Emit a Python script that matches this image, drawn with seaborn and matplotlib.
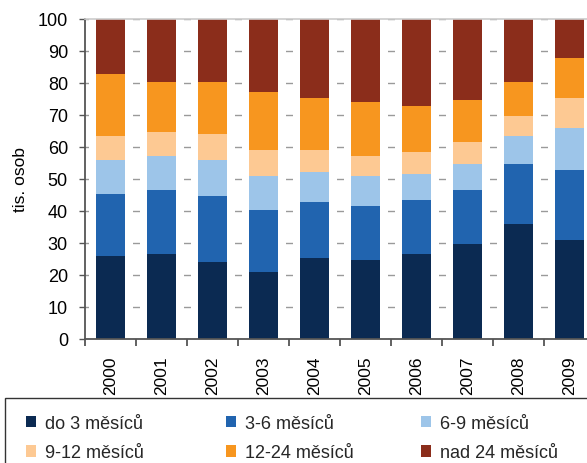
import matplotlib
matplotlib.use("Agg")
import matplotlib.pyplot as plt
from matplotlib.patches import Patch, Rectangle
from matplotlib.ticker import FixedLocator
import numpy as np
import pandas as pd
import seaborn as sns

categories = ['2000', '2001', '2002', '2003', '2004', '2005', '2006', '2007', '2008', '2009']
do3 = [25.9, 26.5, 24.1, 21.0, 25.4, 24.7, 26.5, 29.6, 35.9, 31.0]
m3_6 = [19.3, 20.1, 20.6, 19.3, 17.5, 16.8, 16.9, 17.0, 18.8, 21.8]
m6_9 = [10.6, 10.6, 11.1, 10.6, 9.4, 9.4, 8.2, 8.1, 8.8, 13.1]
m9_12 = [7.7, 7.4, 8.2, 8.1, 6.7, 6.3, 6.9, 6.8, 6.1, 9.4]
m12_24 = [19.2, 15.7, 16.3, 18.1, 16.3, 16.8, 14.3, 13.1, 10.7, 12.4]
nad24 = [17.3, 19.7, 19.7, 22.9, 24.7, 26.0, 27.2, 25.4, 19.7, 12.3]

series_names = ['do 3 měsíců', '3-6 měsíců', '6-9 měsíců', '9-12 měsíců', '12-24 měsíců', 'nad 24 měsíců']
colors = ['#0B2A52', '#2164AF', '#9DC5E9', '#FDC993', '#F7961F', '#8B2D1B']

sns.set_theme(style='white')
plt.rcParams['font.family'] = ['Liberation Sans', 'DejaVu Sans']

df = pd.DataFrame({n: v for n, v in zip(series_names, [do3, m3_6, m6_9, m9_12, m12_24, nad24])},
                  index=categories)
cum = df.cumsum(axis=1)

W, H = 587, 464
fig = plt.figure(figsize=(W / 100, H / 100), dpi=100)
ax = fig.add_axes([85 / W, 1 - 340 / H, 510 / W, 320 / H])

for name, col in reversed(list(zip(series_names, colors))):
    sns.barplot(x=categories, y=cum[name].values, order=categories, color=col,
                saturation=1, width=0.58, linewidth=0, edgecolor='none', ax=ax)

ax.set_xlim(-0.5, 9.5)
ax.set_ylim(0, 100)
ax.set_yticks(np.arange(0, 101, 10))
ax.set_axisbelow(True)
px = 72 / 100
ax.yaxis.grid(True, color='#9a9a9a', linewidth=1,
              linestyle=(3.5 * px, (7 * px, 44 * px)))
ax.xaxis.grid(False)

for s in ['left', 'bottom']:
    ax.spines[s].set_color('#555555')
    ax.spines[s].set_linewidth(1.3)
ax.spines['right'].set_visible(False)
ax.spines['top'].set_color('#cccccc')
ax.spines['top'].set_linewidth(1.2)

ax.tick_params(axis='y', which='major', direction='out', length=4.3, width=1,
               color='#555555', labelsize=13, pad=8, left=True, labelcolor='black')
ax.xaxis.set_minor_locator(FixedLocator(np.arange(-0.5, 10, 1)))
ax.tick_params(axis='x', which='minor', direction='out', length=5, width=1.3,
               color='#555555', bottom=True)
ax.tick_params(axis='x', which='major', length=0, labelsize=12.5, pad=12,
               labelrotation=90, labelcolor='black')
ax.set_xlabel('')
ax.set_ylabel('tis. osob', fontsize=12.5, labelpad=7, color='black')

# legend box
fig.patches.append(Rectangle((5 / W, -0.05), 1.1, (H - 399) / H + 0.05,
                             transform=fig.transFigure, fill=False,
                             edgecolor='#333333', linewidth=1))

handles = [Patch(facecolor=c, edgecolor='none', label=n) for n, c in zip(series_names, colors)]
col_x = [26, 226, 421]
for i, x in enumerate(col_x):
    hs = [handles[i], handles[i + 3]]
    fig.legend(handles=hs, loc='upper left', bbox_to_anchor=(x / W, 1 - 416 / H),
               frameon=False, borderpad=0, borderaxespad=0,
               handlelength=0.58, handleheight=0.58, handletextpad=0.45,
               labelspacing=0.68, fontsize=13)

fig.savefig('out.png', dpi=100)
